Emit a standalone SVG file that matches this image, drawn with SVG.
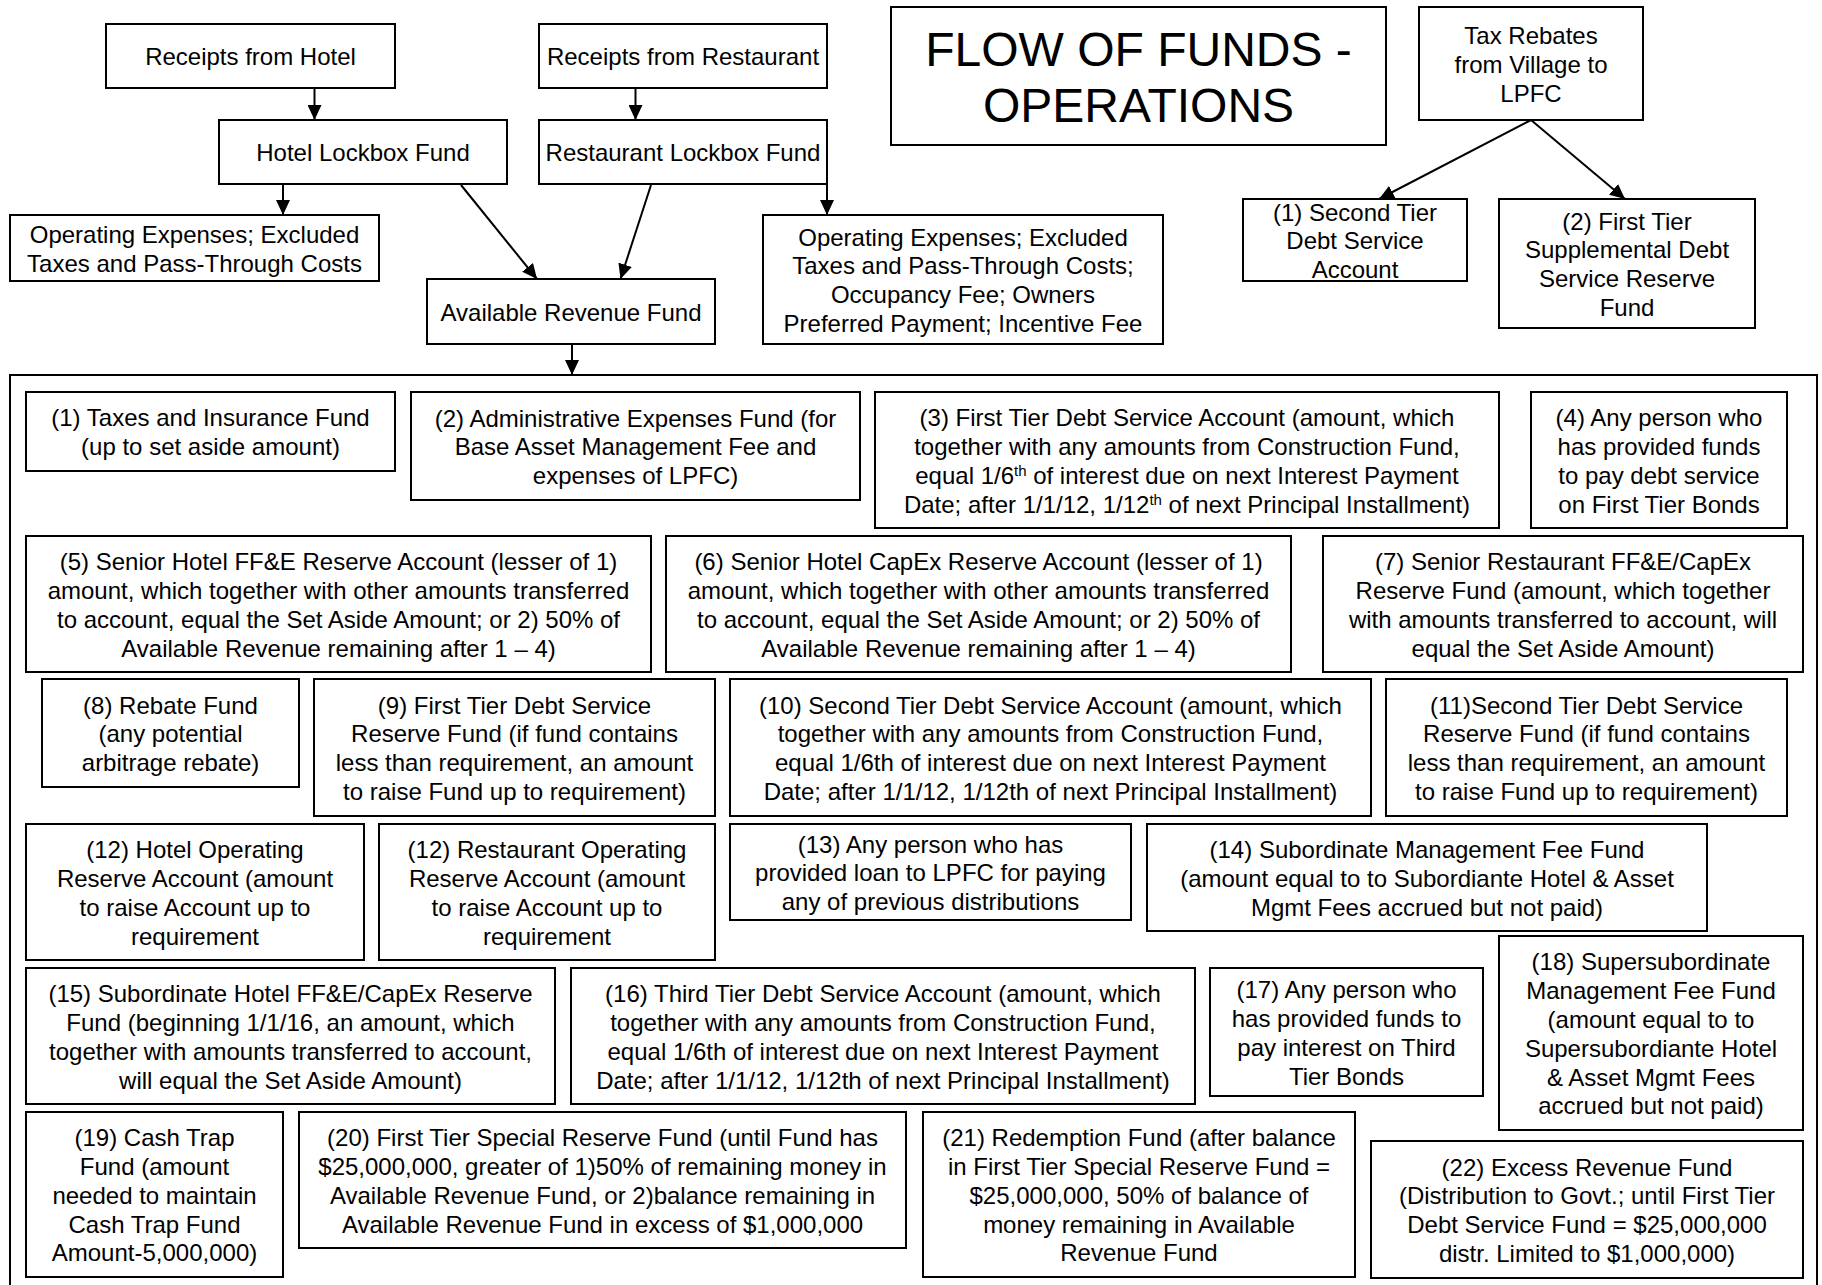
<svg xmlns="http://www.w3.org/2000/svg" width="1822" height="1285" viewBox="0 0 1822 1285">
<defs>
<marker id="ah" markerUnits="userSpaceOnUse" markerWidth="16" markerHeight="14" refX="15" refY="7" orient="auto">
<path d="M0,0 L15,7 L0,14 z" fill="#000"/>
</marker>
<style>
rect{fill:#fff;stroke:#000;stroke-width:2}
text{font-family:"Liberation Sans",Arial,sans-serif;font-size:24px;fill:#000;text-anchor:middle;transform:translate(0px,1px)}
.title{font-size:48px}
.sup{font-size:15px}
#connectors line{stroke:#000;stroke-width:2;marker-end:url(#ah)}
</style>
</defs>
<rect x="0" y="0" width="1822" height="1285" style="stroke:none;fill:#fff"/>
<g id="container"><rect x="10" y="375" width="1807" height="940"/></g>

<g id="n_title"><rect x="891" y="7" width="495" height="138"/>
<text class="title"><tspan x="1138.5" y="64.5">FLOW OF FUNDS -</tspan><tspan x="1138.5" y="121">OPERATIONS</tspan></text></g>

<g id="n_hotel"><rect x="106" y="24" width="289" height="64"/><text x="250.5" y="64.3">Receipts from Hotel</text></g>
<g id="n_rest"><rect x="539" y="24" width="288" height="64"/><text x="683" y="64.3">Receipts from Restaurant</text></g>
<g id="n_hlock"><rect x="219" y="120" width="288" height="64"/><text x="363" y="160.3">Hotel Lockbox Fund</text></g>
<g id="n_rlock"><rect x="539" y="120" width="288" height="64"/><text x="683" y="160.3">Restaurant Lockbox Fund</text></g>
<g id="n_opex1"><rect x="10" y="215" width="369" height="66"/>
<text><tspan x="194.5" y="241.9">Operating Expenses; Excluded</tspan><tspan x="194.5" y="270.7">Taxes and Pass-Through Costs</tspan></text></g>
<g id="n_avail"><rect x="427" y="279" width="288" height="65"/><text x="571" y="319.8">Available Revenue Fund</text></g>
<g id="n_opex2"><rect x="763" y="215" width="400" height="129"/>
<text><tspan x="963" y="244.6">Operating Expenses; Excluded</tspan><tspan x="963" y="273.4">Taxes and Pass-Through Costs;</tspan><tspan x="963" y="302.2">Occupancy Fee; Owners</tspan><tspan x="963" y="331">Preferred Payment; Incentive Fee</tspan></text></g>
<g id="n_tax"><rect x="1419" y="7" width="224" height="113"/>
<text><tspan x="1531" y="43">Tax Rebates</tspan><tspan x="1531" y="71.8">from Village to</tspan><tspan x="1531" y="100.6">LPFC</tspan></text></g>
<g id="n_t1"><rect x="1243" y="199" width="224" height="82"/>
<text><tspan x="1355" y="219.5">(1) Second Tier</tspan><tspan x="1355" y="248.3">Debt Service</tspan><tspan x="1355" y="277.1">Account</tspan></text></g>
<g id="n_t2"><rect x="1499" y="199" width="256" height="129"/>
<text><tspan x="1627" y="228.6">(2) First Tier</tspan><tspan x="1627" y="257.4">Supplemental Debt</tspan><tspan x="1627" y="286.2">Service Reserve</tspan><tspan x="1627" y="315">Fund</tspan></text></g>

<g id="f1"><rect x="26" y="392" width="369" height="79"/>
<text><tspan x="210.5" y="425.4">(1) Taxes and Insurance Fund</tspan><tspan x="210.5" y="454.2">(up to set aside amount)</tspan></text></g>
<g id="f2"><rect x="411" y="392" width="449" height="108"/>
<text><tspan x="635.5" y="425.5">(2) Administrative Expenses Fund (for</tspan><tspan x="635.5" y="454.3">Base Asset Management Fee and</tspan><tspan x="635.5" y="483.1">expenses of LPFC)</tspan></text></g>
<g id="f3"><rect x="875" y="392" width="624" height="136"/>
<text><tspan x="1187" y="425.1">(3) First Tier Debt Service Account (amount, which</tspan><tspan x="1187" y="453.9">together with any amounts from Construction Fund,</tspan><tspan x="1187" y="482.7">equal 1/6<tspan class="sup" baseline-shift="super">th</tspan> of interest due on next Interest Payment</tspan><tspan x="1187" y="511.5">Date; after 1/1/12, 1/12<tspan class="sup" baseline-shift="super">th</tspan> of next Principal Installment)</tspan></text></g>
<g id="f4"><rect x="1531" y="392" width="256" height="136"/>
<text><tspan x="1659" y="425.1">(4) Any person who</tspan><tspan x="1659" y="453.9">has provided funds</tspan><tspan x="1659" y="482.7">to pay debt service</tspan><tspan x="1659" y="511.5">on First Tier Bonds</tspan></text></g>

<g id="f5"><rect x="26" y="536" width="625" height="136"/>
<text><tspan x="338.5" y="569.1">(5) Senior Hotel FF&amp;E Reserve Account (lesser of 1)</tspan><tspan x="338.5" y="597.9">amount, which together with other amounts transferred</tspan><tspan x="338.5" y="626.7">to account, equal the Set Aside Amount; or 2) 50% of</tspan><tspan x="338.5" y="655.5">Available Revenue remaining after 1 – 4)</tspan></text></g>
<g id="f6"><rect x="666" y="536" width="625" height="136"/>
<text><tspan x="978.5" y="569.1">(6) Senior Hotel CapEx Reserve Account (lesser of 1)</tspan><tspan x="978.5" y="597.9">amount, which together with other amounts transferred</tspan><tspan x="978.5" y="626.7">to account, equal the Set Aside Amount; or 2) 50% of</tspan><tspan x="978.5" y="655.5">Available Revenue remaining after 1 – 4)</tspan></text></g>
<g id="f7"><rect x="1323" y="536" width="480" height="136"/>
<text><tspan x="1563" y="569.1">(7) Senior Restaurant FF&amp;E/CapEx</tspan><tspan x="1563" y="597.9">Reserve Fund (amount, which together</tspan><tspan x="1563" y="626.7">with amounts transferred to account, will</tspan><tspan x="1563" y="655.5">equal the Set Aside Amount)</tspan></text></g>

<g id="f8"><rect x="42" y="679" width="257" height="108"/>
<text><tspan x="170.5" y="712.5">(8) Rebate Fund</tspan><tspan x="170.5" y="741.3">(any potential</tspan><tspan x="170.5" y="770.1">arbitrage rebate)</tspan></text></g>
<g id="f9"><rect x="314" y="679" width="401" height="137"/>
<text><tspan x="514.5" y="712.6">(9) First Tier Debt Service</tspan><tspan x="514.5" y="741.4">Reserve Fund (if fund contains</tspan><tspan x="514.5" y="770.2">less than requirement, an amount</tspan><tspan x="514.5" y="799">to raise Fund up to requirement)</tspan></text></g>
<g id="f10"><rect x="730" y="679" width="641" height="137"/>
<text><tspan x="1050.5" y="712.6">(10) Second Tier Debt Service Account (amount, which</tspan><tspan x="1050.5" y="741.4">together with any amounts from Construction Fund,</tspan><tspan x="1050.5" y="770.2">equal 1/6th of interest due on next Interest Payment</tspan><tspan x="1050.5" y="799">Date; after 1/1/12, 1/12th of next Principal Installment)</tspan></text></g>
<g id="f11"><rect x="1386" y="679" width="401" height="137"/>
<text><tspan x="1586.5" y="712.6">(11)Second Tier Debt Service</tspan><tspan x="1586.5" y="741.4">Reserve Fund (if fund contains</tspan><tspan x="1586.5" y="770.2">less than requirement, an amount</tspan><tspan x="1586.5" y="799">to raise Fund up to requirement)</tspan></text></g>

<g id="f12h"><rect x="26" y="824" width="338" height="136"/>
<text><tspan x="195" y="857.1">(12) Hotel Operating</tspan><tspan x="195" y="885.9">Reserve Account (amount</tspan><tspan x="195" y="914.7">to raise Account up to</tspan><tspan x="195" y="943.5">requirement</tspan></text></g>
<g id="f12r"><rect x="379" y="824" width="336" height="136"/>
<text><tspan x="547" y="857.1">(12) Restaurant Operating</tspan><tspan x="547" y="885.9">Reserve Account (amount</tspan><tspan x="547" y="914.7">to raise Account up to</tspan><tspan x="547" y="943.5">requirement</tspan></text></g>
<g id="f13"><rect x="730" y="824" width="401" height="96"/>
<text><tspan x="930.5" y="851.5">(13) Any person who has</tspan><tspan x="930.5" y="880.3">provided loan to LPFC for paying</tspan><tspan x="930.5" y="909.1">any of previous distributions</tspan></text></g>
<g id="f14"><rect x="1147" y="824" width="560" height="107"/>
<text><tspan x="1427" y="857">(14) Subordinate Management Fee Fund</tspan><tspan x="1427" y="885.8">(amount equal to to Subordiante Hotel &amp; Asset</tspan><tspan x="1427" y="914.6">Mgmt Fees accrued but not paid)</tspan></text></g>

<g id="f15"><rect x="26" y="968" width="529" height="136"/>
<text><tspan x="290.5" y="1001.1">(15) Subordinate Hotel FF&amp;E/CapEx Reserve</tspan><tspan x="290.5" y="1029.9">Fund (beginning 1/1/16, an amount, which</tspan><tspan x="290.5" y="1058.7">together with amounts transferred to account,</tspan><tspan x="290.5" y="1087.5">will equal the Set Aside Amount)</tspan></text></g>
<g id="f16"><rect x="571" y="968" width="624" height="136"/>
<text><tspan x="883" y="1001.1">(16) Third Tier Debt Service Account (amount, which</tspan><tspan x="883" y="1029.9">together with any amounts from Construction Fund,</tspan><tspan x="883" y="1058.7">equal 1/6th of interest due on next Interest Payment</tspan><tspan x="883" y="1087.5">Date; after 1/1/12, 1/12th of next Principal Installment)</tspan></text></g>
<g id="f17"><rect x="1210" y="968" width="273" height="128"/>
<text><tspan x="1346.5" y="997.1">(17) Any person who</tspan><tspan x="1346.5" y="1025.9">has provided funds to</tspan><tspan x="1346.5" y="1054.7">pay interest on Third</tspan><tspan x="1346.5" y="1083.5">Tier Bonds</tspan></text></g>
<g id="f18"><rect x="1499" y="936" width="304" height="194"/>
<text><tspan x="1651" y="969.3">(18) Supersubordinate</tspan><tspan x="1651" y="998.1">Management Fee Fund</tspan><tspan x="1651" y="1026.9">(amount equal to to</tspan><tspan x="1651" y="1055.7">Supersubordiante Hotel</tspan><tspan x="1651" y="1084.5">&amp; Asset Mgmt Fees</tspan><tspan x="1651" y="1113.3">accrued but not paid)</tspan></text></g>

<g id="f19"><rect x="26" y="1112" width="257" height="165"/>
<text><tspan x="154.5" y="1145.2">(19) Cash Trap</tspan><tspan x="154.5" y="1174">Fund (amount</tspan><tspan x="154.5" y="1202.8">needed to maintain</tspan><tspan x="154.5" y="1231.6">Cash Trap Fund</tspan><tspan x="154.5" y="1260.4">Amount-5,000,000)</tspan></text></g>
<g id="f20"><rect x="299" y="1112" width="607" height="136"/>
<text><tspan x="602.5" y="1145.1">(20) First Tier Special Reserve Fund (until Fund has</tspan><tspan x="602.5" y="1173.9">$25,000,000, greater of 1)50% of remaining money in</tspan><tspan x="602.5" y="1202.7">Available Revenue Fund, or 2)balance remaining in</tspan><tspan x="602.5" y="1231.5">Available Revenue Fund in excess of $1,000,000</tspan></text></g>
<g id="f21"><rect x="923" y="1112" width="432" height="165"/>
<text><tspan x="1139" y="1145.2">(21) Redemption Fund (after balance</tspan><tspan x="1139" y="1174">in First Tier Special Reserve Fund =</tspan><tspan x="1139" y="1202.8">$25,000,000, 50% of balance of</tspan><tspan x="1139" y="1231.6">money remaining in Available</tspan><tspan x="1139" y="1260.4">Revenue Fund</tspan></text></g>
<g id="f22"><rect x="1371" y="1141" width="432" height="137"/>
<text><tspan x="1587" y="1174.6">(22) Excess Revenue Fund</tspan><tspan x="1587" y="1203.4">(Distribution to Govt.; until First Tier</tspan><tspan x="1587" y="1232.2">Debt Service Fund = $25,000,000</tspan><tspan x="1587" y="1261">distr. Limited to $1,000,000)</tspan></text></g>

<g id="connectors">
<line x1="314.5" y1="88" x2="314.5" y2="120"/>
<line x1="635.5" y1="88" x2="635.5" y2="120"/>
<line x1="283" y1="184" x2="283" y2="215"/>
<line x1="827" y1="184" x2="827" y2="215"/>
<line x1="461" y1="185" x2="537" y2="279"/>
<line x1="651" y1="185" x2="620.5" y2="279"/>
<line x1="572" y1="344" x2="572" y2="375"/>
<line x1="1531" y1="120" x2="1379" y2="199"/>
<line x1="1531" y1="120" x2="1625" y2="199"/>
</g>
</svg>
